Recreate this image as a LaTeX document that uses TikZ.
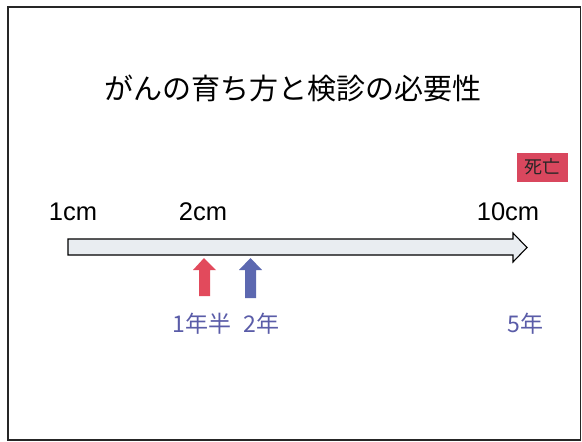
\documentclass[tikz,border=0pt]{standalone}
\usepackage{fontspec}
\setmainfont{Liberation Sans}
\newfontfamily\jp{Noto Sans CJK JP}
\definecolor{deathred}{HTML}{D9475E}
\definecolor{arrred}{HTML}{E24A5C}
\definecolor{arrblue}{HTML}{5C68B0}
\definecolor{yeartext}{HTML}{5A5CA8}
\definecolor{barfill}{HTML}{E9EDF1}
\tikzset{
  px/.style={x=1pt,y=-1pt},
  sizelabel/.style={font=\fontsize{25.5}{25.5}\selectfont, text=black, inner sep=0pt},
  yearlabel/.style={font=\jp\fontsize{23}{23}\selectfont, text=yeartext, inner sep=0pt},
}
\begin{document}
\begin{tikzpicture}[px]
\useasboundingbox (0,0) rectangle (582,442);
\fill[white] (0,0) rectangle (582,442);
% frame
\draw[line width=1.6pt, black!85] (8,7) rectangle (580.5,440);
% title
\node[font=\jp\fontsize{29}{29}\selectfont, inner sep=0pt] (title) at (293,88) {がんの育ち方と検診の必要性};
% death box
\node[fill=deathred, minimum width=51pt, minimum height=29pt, inner sep=0pt, font=\jp\fontsize{18}{18}\selectfont, text=black!85] (death) at (542.5,167) {死亡};
% size labels
\node[sizelabel] (s1) at (73,212) {1cm};
\node[sizelabel] (s2) at (203,212) {2cm};
\node[sizelabel] (s10) at (508,212) {10cm};
% main timeline arrow
\draw[line width=1.1pt, fill=barfill] (68,239) -- (513,239) -- (513,233) -- (527,247.5) -- (513,262) -- (513,255) -- (68,255) -- cycle;
% red and blue marker arrows
\fill[arrred] (199,296) -- (199,270) -- (193,270) -- (204,258) -- (216,270) -- (210,270) -- (210,296) -- cycle;
\fill[arrblue] (245,298) -- (245,270) -- (239,270) -- (250.5,258) -- (262,270) -- (256,270) -- (256,298) -- cycle;
% year labels
\node[yearlabel] (y15) at (202,324) {1年半};
\node[yearlabel] (y2) at (261.5,324) {2年};
\node[yearlabel] (y5) at (525.5,324) {5年};
\end{tikzpicture}
\end{document}
